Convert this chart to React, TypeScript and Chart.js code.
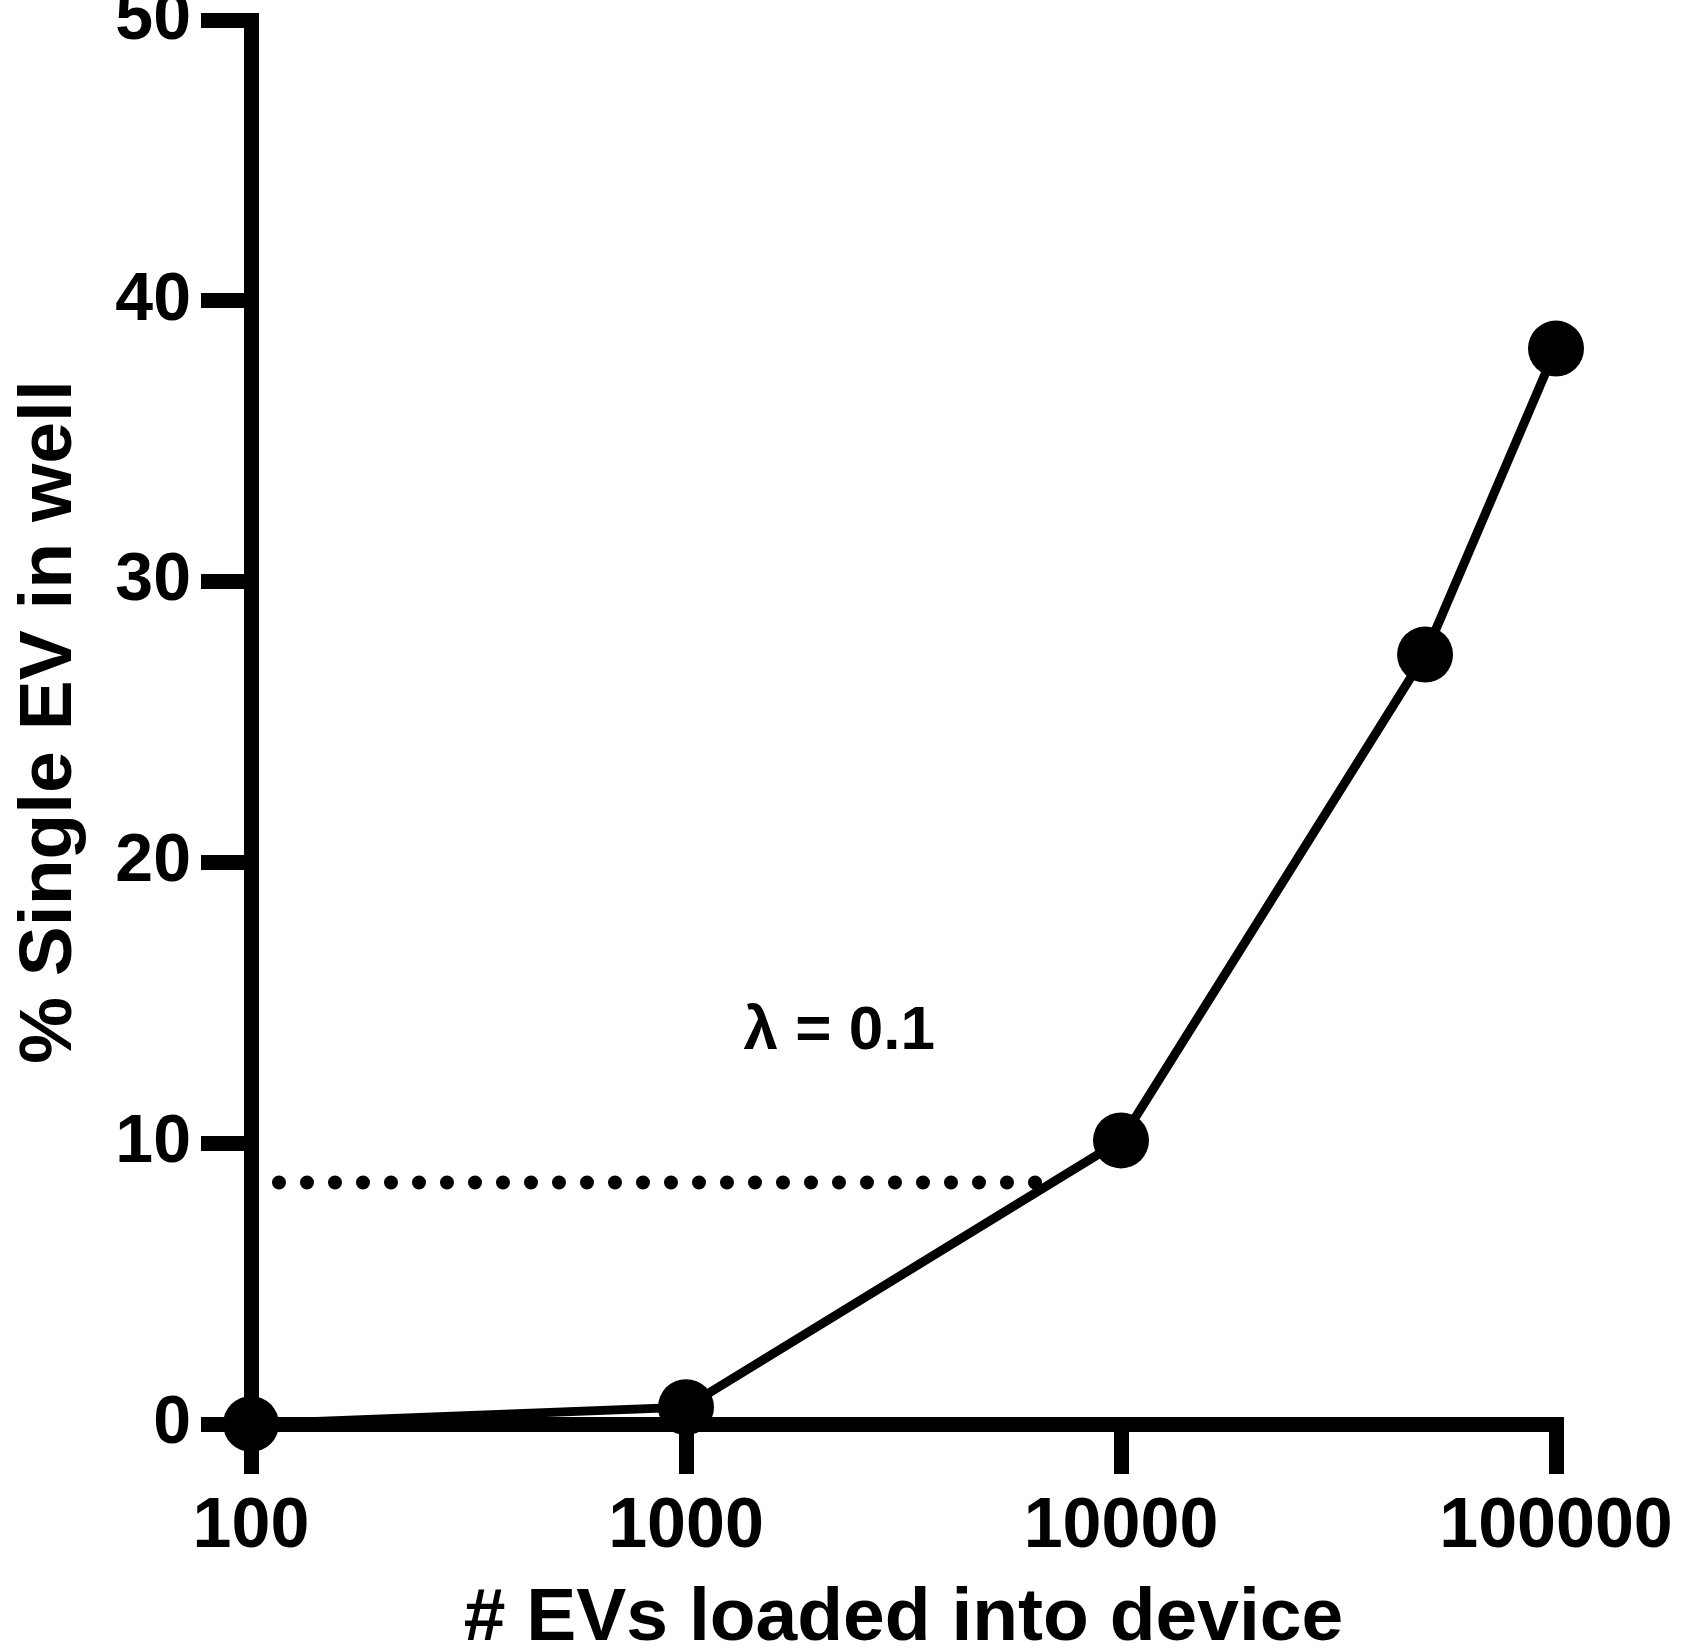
import React, { useEffect, useRef } from "react";
import { Chart, registerables } from "chart.js";

Chart.register(...registerables);

// ---- data ----
const evsLoaded = [100, 1000, 10000, 50000, 100000];
const singleEvPct = [0, 0.6, 10.1, 27.4, 38.3];
const xTickValues = [100, 1000, 10000, 100000];
const yTickValues = [0, 10, 20, 30, 40, 50];
const lambdaLineX = [100, 6500];
const lambdaLineY = [8.6, 8.6];
const lambdaLabel = "λ = 0.1";
const lambdaLabelPos = [2250, 13.95];

const xTitle = "# EVs loaded into device";
const yTitle = "% Single EV in well";

const W = 1691;
const H = 1649;
const SHIFT = 8; // canvas is raised so the plot top lands where the reference has it
const CH = H + SHIFT;
const FONT = "'Liberation Sans', Arial, Helvetica, sans-serif";

const annotationPlugin = {
  id: "lambdaAnnotation",
  afterDatasetsDraw(chart: any) {
    const { ctx, scales } = chart;
    const x = scales.x.getPixelForValue(lambdaLabelPos[0]);
    const y = scales.y.getPixelForValue(lambdaLabelPos[1]);
    ctx.save();
    ctx.font = `bold 62px ${FONT}`;
    ctx.fillStyle = "#000";
    ctx.textAlign = "center";
    ctx.textBaseline = "middle";
    ctx.fillText(lambdaLabel, x, y);
    ctx.restore();
  },
};

export default function App() {
  const canvasRef = useRef<HTMLCanvasElement | null>(null);

  useEffect(() => {
    const canvas = canvasRef.current;
    if (!canvas) return;
    Chart.defaults.font.family = FONT;
    Chart.defaults.color = "#000";

    const chart = new Chart(canvas, {
      type: "line",
      data: {
        datasets: [
          {
            data: evsLoaded.map((x, i) => ({ x, y: singleEvPct[i] })),
            borderColor: "#000",
            borderWidth: 9,
            tension: 0,
            pointRadius: 28,
            pointHoverRadius: 28,
            pointBackgroundColor: "#000",
            pointBorderColor: "#000",
            pointBorderWidth: 0,
            clip: false as any,
          },
          {
            data: lambdaLineX.map((x, i) => ({ x, y: lambdaLineY[i] })),
            borderColor: "#000",
            borderWidth: 14,
            borderDash: [0, 28],
            borderCapStyle: "round",
            pointRadius: 0,
            pointHoverRadius: 0,
            tension: 0,
            clip: false as any,
          },
        ],
      },
      options: {
        animation: false,
        responsive: false,
        devicePixelRatio: 1,
        layout: { padding: { top: 0, right: 135, bottom: 0, left: 0 } },
        plugins: {
          legend: { display: false },
          tooltip: { enabled: false },
        },
        events: [],
        scales: {
          x: {
            type: "logarithmic",
            min: 100,
            max: 100000,
            afterBuildTicks: (scale: any) => {
              scale.ticks = xTickValues.map((v) => ({ value: v, major: false }));
            },
            afterFit: (scale: any) => {
              scale.height = H - 1424;
              scale.paddingLeft = 0;
              scale.paddingRight = 0;
            },
            grid: {
              drawOnChartArea: false,
              drawTicks: true,
              tickLength: 50,
              tickWidth: 15,
              tickColor: "#000",
              lineWidth: 15,
              color: "#000",
            },
            border: { display: true, width: 15, color: "#000" },
            ticks: {
              autoSkip: false,
              maxRotation: 0,
              padding: 12,
              color: "#000",
              font: { size: 70, weight: "bold", lineHeight: 1.2 },
              callback: (v: any) => String(v),
            },
            title: {
              display: true,
              text: xTitle,
              color: "#000",
              font: { size: 75, weight: "bold", lineHeight: 0.8 },
              padding: { top: 0, bottom: 0 },
            },
          },
          y: {
            type: "linear",
            min: 0,
            max: 50,
            afterBuildTicks: (scale: any) => {
              scale.ticks = yTickValues.map((v) => ({ value: v }));
            },
            afterFit: (scale: any) => {
              scale.width = 251;
              scale.paddingTop = 0;
              scale.paddingBottom = 0;
            },
            grid: {
              drawOnChartArea: false,
              drawTicks: true,
              tickLength: 50,
              tickWidth: 15,
              tickColor: "#000",
              lineWidth: 15,
              color: "#000",
            },
            border: { display: true, width: 15, color: "#000" },
            ticks: {
              padding: 10,
              color: "#000",
              font: { size: 68, weight: "bold", lineHeight: 1.2 },
              callback: (v: any) => String(v),
            },
            title: {
              display: true,
              text: yTitle,
              color: "#000",
              font: { size: 75, weight: "bold", lineHeight: 0.8 },
              padding: { top: 20, bottom: 0 },
            },
          },
        },
      } as any,
      plugins: [annotationPlugin],
    });

    return () => {
      chart.destroy();
    };
  }, []);

  return (
    <div style={{ position: "absolute", left: 0, top: 0, width: W, height: H, background: "#fff", overflow: "hidden" }}>
      <canvas
        ref={canvasRef}
        width={W}
        height={CH}
        style={{ display: "block", position: "absolute", left: 0, top: -SHIFT, width: W, height: CH }}
      />
    </div>
  );
}
